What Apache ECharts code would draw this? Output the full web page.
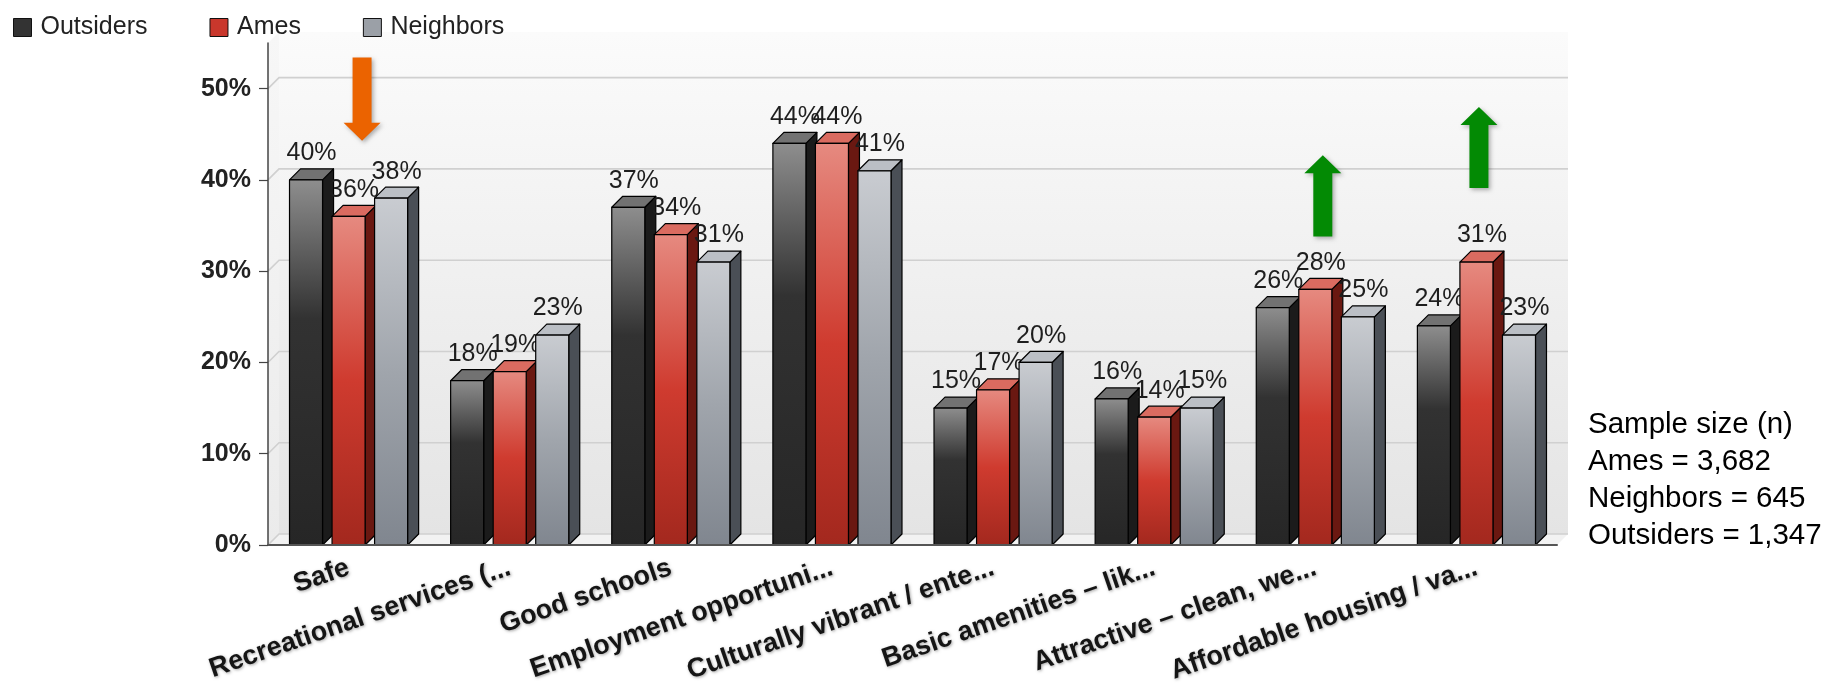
<!DOCTYPE html>
<html>
<head>
<meta charset="utf-8">
<title>Most important community attributes</title>
<script src="https://cdn.jsdelivr.net/npm/echarts@6/dist/echarts.min.js"></script>
<style>
  html, body { margin: 0; padding: 0; background: #ffffff; }
  #chart { width: 1837px; height: 686px; }
</style>
</head>
<body>
<div id="chart"></div>
<script>
// ---- data ----
const categories = [
  'Safe',
  'Recreational services (...',
  'Good schools',
  'Employment opportuni...',
  'Culturally vibrant / ente...',
  'Basic amenities – lik...',
  'Attractive – clean, we...',
  'Affordable housing / va...'
];
const outsiders = [40, 18, 37, 44, 15, 16, 26, 24];
const ames      = [36, 19, 34, 44, 17, 14, 28, 31];
const neighbors = [38, 23, 31, 41, 20, 15, 25, 23];
const seriesNames = ['Outsiders', 'Ames', 'Neighbors'];
const yTicks = [0, 10, 20, 30, 40, 50];
const sampleLines = ['Sample size (n)', 'Ames = 3,682', 'Neighbors = 645', 'Outsiders = 1,347'];

// call-out arrows: category index, tail value (%), tip value (%)
const arrowCategory = [0, 6, 7];
const arrowTail = [53.4, 33.8, 39.1];
const arrowTip  = [44.3, 42.7, 48.0];

// ---- drawing constants ----
const DX = 11, DY = 11;            // 3D depth offset
const FRONT_RATIO = 0.205;         // front face width / band
const PITCH_RATIO = 0.264;         // distance between bar centres / band
const FONT = '"Liberation Sans", Arial, Helvetica, sans-serif';
const arrowNudge = [8, 2, -3];
const LG = echarts.graphic.LinearGradient;

const faces = [
  { // Outsiders
    legend: '#333333',
    front: [['0', '#8e8e8e'], ['0.38', '#323232'], ['1', '#262626']],
    side: '#1b1b1b', top: '#727272'
  },
  { // Ames
    legend: '#c9372c',
    front: [['0', '#e68a80'], ['0.5', '#cf3b2f'], ['1', '#a3281e']],
    side: '#6a1811', top: '#da6b60'
  },
  { // Neighbors
    legend: '#9ba0a7',
    front: [['0', '#c9ccd1'], ['0.5', '#a0a5ac'], ['1', '#80868f']],
    side: '#4a4f56', top: '#bbbfc5'
  }
];

function makeBarRenderer(k) {
  const f = faces[k];
  return function (params, api) {
    const cat = api.value(0), val = api.value(1);
    const base = api.coord([cat, 0]);
    const top = api.coord([cat, val]);
    const band = api.size([1, 0])[0];
    const w = band * FRONT_RATIO;
    const cx = base[0] + (k - 1) * band * PITCH_RATIO;
    const x0 = cx - w / 2, x1 = cx + w / 2, yT = top[1], yB = base[1];
    const edge = { stroke: '#000', lineWidth: 1.2, lineJoin: 'round' };
    return {
      type: 'group',
      children: [
        {
          type: 'polygon',
          shape: { points: [[x1, yT], [x1 + DX, yT - DY], [x1 + DX, yB - DY], [x1, yB]] },
          style: Object.assign({ fill: f.side }, edge)
        },
        {
          type: 'polygon',
          shape: { points: [[x0, yT], [x0 + DX, yT - DY], [x1 + DX, yT - DY], [x1, yT]] },
          style: Object.assign({ fill: f.top }, edge)
        },
        {
          type: 'rect',
          shape: { x: x0, y: yT, width: w, height: yB - yT },
          style: Object.assign({
            fill: new LG(0, 0, 0, 1, f.front.map(s => ({ offset: +s[0], color: s[1] })))
          }, edge)
        },
        {
          type: 'text',
          x: cx + DX / 2,
          y: yT - DY - 3,
          style: {
            text: val + '%',
            fill: '#1e1e1e',
            font: '25px ' + FONT,
            align: 'center',
            verticalAlign: 'bottom'
          }
        }
      ]
    };
  };
}

function renderWall(params, api) {
  const cs = params.coordSys;
  const L = cs.x, R = cs.x + cs.width, T = cs.y, B = cs.y + cs.height;
  const children = [
    { // back wall
      type: 'rect',
      shape: { x: L + DX, y: T - DY, width: cs.width, height: cs.height },
      style: { fill: new LG(0, 0, 0, 1, [{ offset: 0, color: '#fbfbfb' }, { offset: 1, color: '#e4e4e4' }]) }
    },
    { // left wall
      type: 'polygon',
      shape: { points: [[L, T], [L + DX, T - DY], [L + DX, B - DY], [L, B]] },
      style: { fill: new LG(0, 0, 0, 1, [{ offset: 0, color: '#f7f7f7' }, { offset: 1, color: '#ebebeb' }]) }
    },
    { // floor
      type: 'polygon',
      shape: { points: [[L, B], [L + DX, B - DY], [R + DX, B - DY], [R, B]] },
      style: { fill: '#f2f2f2' }
    }
  ];
  yTicks.forEach(v => {
    const y = api.coord([0, v])[1];
    children.push({
      type: 'polyline',
      shape: { points: [[L, y], [L + DX, y - DY], [R + DX, y - DY]] },
      style: { stroke: '#d0d0d0', lineWidth: 1.6, fill: null }
    });
  });
  return { type: 'group', children: children };
}

function renderArrow(params, api) {
  const i = params.dataIndex;
  const cat = api.value(0);
  const cx = api.coord([cat, 0])[0] + DX / 2 + arrowNudge[i];
  const yTail = api.coord([cat, api.value(1)])[1];
  const yTip = api.coord([cat, api.value(2)])[1];
  const dir = yTip > yTail ? 1 : -1;
  const headLen = 18, sw = 9.5, hw = 18.5;
  const yBase = yTip - dir * headLen;
  return {
    type: 'polygon',
    shape: {
      points: [[cx - sw, yTail], [cx + sw, yTail], [cx + sw, yBase], [cx + hw, yBase],
               [cx, yTip], [cx - hw, yBase], [cx - sw, yBase]]
    },
    style: {
      fill: dir > 0 ? '#eb6300' : '#038a04',
      shadowBlur: 4, shadowOffsetX: 2, shadowOffsetY: 2,
      shadowColor: 'rgba(0,0,0,0.3)'
    }
  };
}

const seriesValues = [outsiders, ames, neighbors];

const barSeries = seriesNames.map((name, k) => ({
  name: name,
  type: 'custom',
  z: 3,
  itemStyle: { color: faces[k].legend },
  encode: { x: 0, y: 1 },
  renderItem: makeBarRenderer(k),
  data: seriesValues[k].map((v, i) => [i, v])
}));

const chart = echarts.init(document.getElementById('chart'), null, { renderer: 'canvas' });

chart.setOption({
  animation: false,
  backgroundColor: '#ffffff',
  legend: {
    data: seriesNames,
    left: 13,
    top: 15,
    padding: 0,
    icon: 'rect',
    itemWidth: 18,
    itemHeight: 18,
    itemGap: 62,
    itemStyle: { borderColor: '#111', borderWidth: 1 },
    textStyle: { fontFamily: FONT, fontSize: 25, color: '#222', padding: [0, 0, 0, 4] }
  },
  grid: { left: 268, right: 280, top: 43, bottom: 141, containLabel: false },
  xAxis: {
    type: 'category',
    data: categories,
    z: 5,
    axisLine: { lineStyle: { color: '#555', width: 2 } },
    axisTick: { alignWithLabel: true, length: 9, lineStyle: { color: '#333', width: 1.2 } },
    axisLabel: {
      interval: 0,
      rotate: 19,
      margin: 22,
      fontFamily: FONT,
      fontWeight: 'bold',
      fontSize: 27,
      color: '#151515',
      textShadowColor: 'rgba(0,0,0,0.35)',
      textShadowBlur: 3,
      textShadowOffsetX: 1,
      textShadowOffsetY: 1
    },
    splitLine: { show: false }
  },
  yAxis: {
    type: 'value',
    min: 0,
    max: 55,
    z: 5,
    axisLine: { show: true, lineStyle: { color: '#444', width: 1.5 } },
    axisTick: { show: true, length: 9, customValues: yTicks, lineStyle: { color: '#444', width: 1.2 } },
    axisLabel: {
      customValues: yTicks,
      formatter: v => v + '%',
      margin: 17,
      fontFamily: FONT,
      fontWeight: 'bold',
      fontSize: 25,
      color: '#222'
    },
    splitLine: { show: false }
  },
  series: [
    {
      name: 'wall',
      type: 'custom',
      z: 1,
      silent: true,
      encode: { x: 0, y: 1 },
      renderItem: renderWall,
      data: [[0, 0]]
    }
  ].concat(barSeries).concat([
    {
      name: 'arrows',
      type: 'custom',
      z: 4,
      silent: true,
      encode: { x: 0, y: [1, 2] },
      renderItem: renderArrow,
      data: arrowCategory.map((c, i) => [c, arrowTail[i], arrowTip[i]])
    }
  ]),
  graphic: [
    {
      type: 'text',
      left: 1588,
      top: 406,
      style: {
        text: sampleLines.join('\n'),
        font: '29.5px ' + FONT,
        lineHeight: 37,
        fill: '#000'
      }
    }
  ]
});
</script>
</body>
</html>
